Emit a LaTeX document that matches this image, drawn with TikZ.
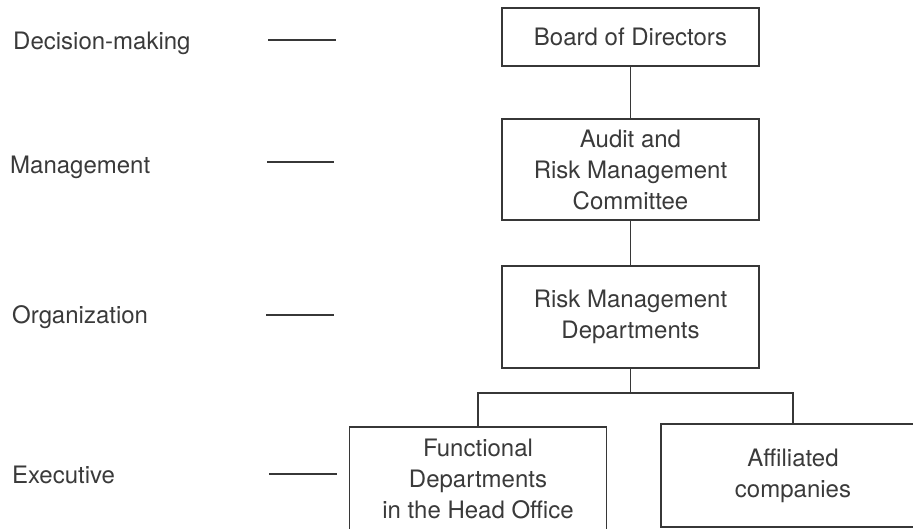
\documentclass[tikz,border=0pt]{standalone}
\usepackage{fontspec}
\setmainfont{TeX Gyre Heros}
\definecolor{ink}{RGB}{58,58,58}
\definecolor{rule}{RGB}{55,55,55}
\begin{document}
\begin{tikzpicture}[x=1pt,y=-1pt,
  every node/.style={font=\fontsize{24}{31}\selectfont, text=ink, inner sep=0pt},
  box/.style={draw=rule, line width=1.5pt, align=center},
  link/.style={draw=rule, line width=1.5pt},
  level/.style={anchor=base west},
  tick/.style={draw=rule, line width=1.4pt}]
\useasboundingbox (0,0) rectangle (913,528);
\clip (0,0) rectangle (913,528);

% hierarchy boxes
\node[box, minimum width=257pt, minimum height=58pt]  (board) at (630.5,37)    {Board of Directors};
\node[box, minimum width=257pt, minimum height=101pt] (audit) at (630.5,169.5) {Audit and\\Risk Management\\Committee};
\node[box, minimum width=257pt, minimum height=102pt] (risk)  at (630.5,317)   {Risk Management\\Departments};
\node[box, minimum width=257pt, minimum height=104pt] (func)  at (478,479)     {Functional\\Departments\\in the Head Office};
\node[box, minimum width=264pt, minimum height=103pt] (aff)   at (793,475.5)   {Affiliated\\companies};

% connectors
\coordinate (split) at (risk.south |- 0,393);
\draw[link] (board.south) -- (audit.north);
\draw[link] (audit.south) -- (risk.north);
\draw[link] (risk.south) -- (split);
\draw[link] (func.north) |- (split) -| (aff.north);

% level labels and their rules
\node[level] (lvA) at (13,49)  {Decision-making};
\node[level] (lvB) at (10,173) {Management};
\node[level] (lvC) at (12,323) {Organization};
\node[level] (lvD) at (12,483) {Executive};

\coordinate (tA) at (268,40);
\coordinate (tB) at (267,162);
\coordinate (tC) at (266,315);
\coordinate (tD) at (269,474);
\draw[tick] (tA) -- ++(68,0);
\draw[tick] (tB) -- ++(67,0);
\draw[tick] (tC) -- ++(68,0);
\draw[tick] (tD) -- ++(68,0);
\end{tikzpicture}
\end{document}
